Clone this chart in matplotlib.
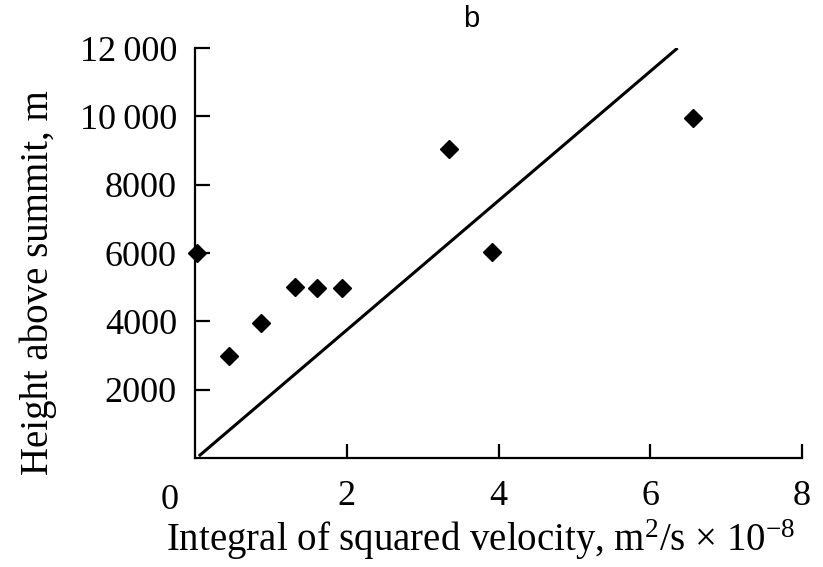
import numpy as np
import matplotlib
matplotlib.use("Agg")
import matplotlib.pyplot as plt
from matplotlib.ticker import FixedLocator

# ====== DATA ======
velocity_integral = [0.02, 0.45, 0.87, 1.32, 1.61, 1.94, 3.35, 3.91, 6.56]
height_above = [6000, 3000, 3950, 5000, 4980, 4980, 9050, 6030, 9950]

# fitted line end points
fit_x = [0.05, 6.36]
fit_y = [60, 12000]

x_ticks = [2, 4, 6, 8]
y_ticks = [2000, 4000, 6000, 8000, 10000, 12000]
y_tick_labels = ["2000", "4000", "6000", "8000", "10\u2009000", "12\u2009000"]

SERIF = "Liberation Serif"
plt.rcParams["font.family"] = [SERIF, "DejaVu Serif"]
plt.rcParams["mathtext.fontset"] = "custom"
plt.rcParams["mathtext.rm"] = SERIF
plt.rcParams["mathtext.it"] = SERIF + ":italic"


def main():
    fig = plt.figure(figsize=(8.23, 5.67), dpi=100)
    ax = fig.add_axes([0.237, 0.192, 0.7375, 0.7233])

    ax.plot(fit_x, fit_y, color="black", linewidth=2.2, solid_capstyle="butt")
    ax.plot(velocity_integral, height_above, linestyle="none", marker="D",
            markersize=9, color="black", clip_on=False)

    ax.set_xlim(0, 8)
    ax.set_ylim(0, 12000)

    for side in ("top", "right"):
        ax.spines[side].set_visible(False)
    for side in ("left", "bottom"):
        ax.spines[side].set_linewidth(1.6)

    ax.xaxis.set_major_locator(FixedLocator(x_ticks))
    ax.set_xticklabels([str(t) for t in x_ticks])
    ax.set_yticks(y_ticks)
    ax.set_yticklabels(y_tick_labels)

    ax.tick_params(axis="both", direction="in", width=1.6, labelsize=26)
    ax.tick_params(axis="x", length=10, pad=16)
    ax.tick_params(axis="y", length=11, pad=13)

    # shared origin label sits left of the corner
    ax.text(-0.33, -0.064, "0", transform=ax.get_xaxis_transform(),
            ha="center", va="top", fontsize=26)

    ax.set_xlabel("Integral of squared velocity, m$^2$/s \u00d7 10$^{-8}$",
                  fontsize=28)
    ax.xaxis.set_label_coords(0.47, -0.2)
    ax.xaxis.label.set_va("center")
    ax.set_ylabel("Height above summit, m", fontsize=28)
    ax.yaxis.set_label_coords(-0.259, 0.427)
    ax.yaxis.label.set_va("center")

    fig.text(0.573, 0.966, "b", ha="center", va="center", fontsize=21,
             family="Liberation Sans")

    fig.savefig("out.png", dpi=100, facecolor="white")


if __name__ == "__main__":
    main()
